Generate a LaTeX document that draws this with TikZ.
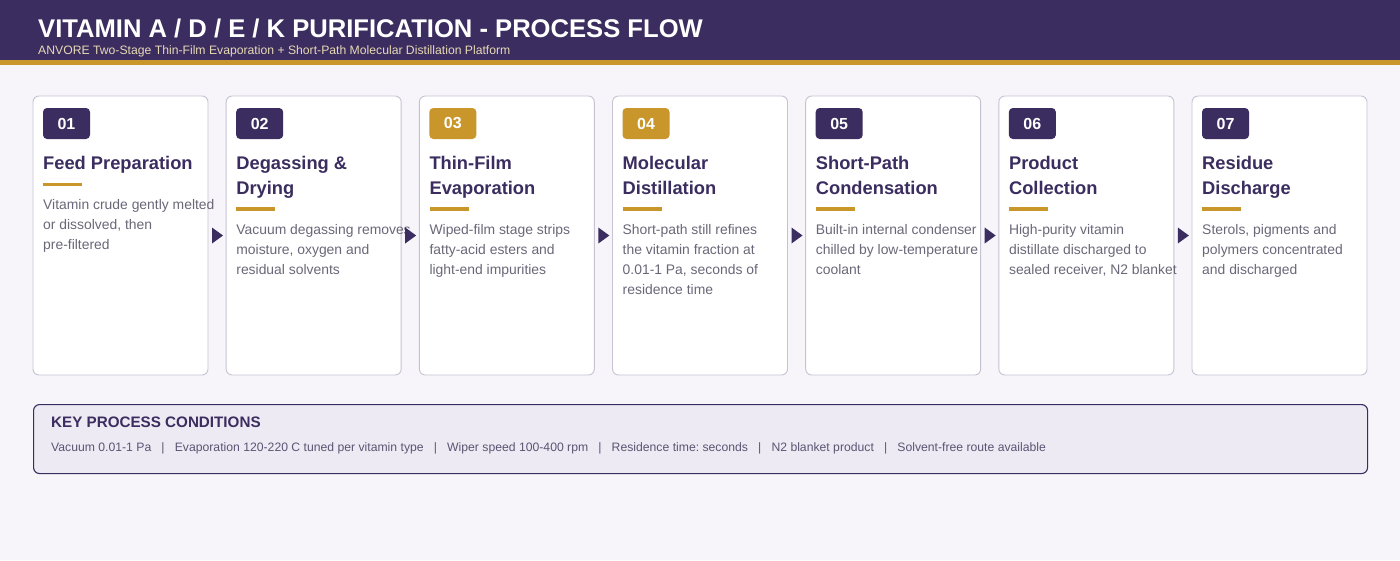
\documentclass[tikz,border=0pt]{standalone}
\usepackage{fontspec}
\setmainfont{Liberation Sans}
\usetikzlibrary{calc}
\frenchspacing
\definecolor{bgc}{HTML}{F7F5FA}
\definecolor{hdr}{HTML}{3B2D5F}
\definecolor{gold}{HTML}{C8962A}
\definecolor{cream}{HTML}{E8D9B5}
\definecolor{cardline}{HTML}{C6C2D2}
\definecolor{desccol}{HTML}{6A6878}
\definecolor{boxfill}{HTML}{EDEAF4}
\definecolor{condcol}{HTML}{5C5472}
\tikzset{
  card/.style={draw=cardline, line width=0.9pt, fill=white, rounded corners=6pt,
    minimum width=175pt, minimum height=279pt, anchor=north west, inner sep=0pt, outer sep=0pt},
  badge/.style={rounded corners=4pt, minimum width=47pt, minimum height=31pt, inner sep=0pt,
    text=white, font=\fontsize{16}{18}\selectfont\bfseries},
  ttl/.style={anchor=base west, inner sep=0pt, text=hdr, font=\fontsize{18.3}{22}\selectfont\bfseries},
  ubar/.style={fill=gold, minimum width=39pt, minimum height=3.5pt, inner sep=0pt, anchor=west},
  desc/.style={anchor=base west, inner sep=0pt, text=desccol, font=\fontsize{13.9}{16}\selectfont},
  flowtip/.style={fill=hdr},
}
\newcommand\stagecard[6]{%
  \pgfmathsetmacro\cx{33+(#1-1)*193.17}%
  \pgfmathsetmacro\by{184.5+(#5-1)*24.5}%
  \pgfmathsetmacro\dy{209+(#5-1)*25}%
  \node[card] (c#1) at (\cx,96) {};
  \node[badge, fill=#3] (b#1) at (\cx+33.5,123.5) {#2};
  \foreach \l [count=\k] in {#4} { \node[ttl] (t#1-\k) at (\cx+10,169+\k*25-25) {\l}; }
  \node[ubar] (u#1) at (\cx+10,\by) {};
  \foreach \l [count=\k] in {#6} { \node[desc] (d#1-\k) at (\cx+10,\dy+\k*20.33-20.33) {\l}; }
}
\begin{document}
\begin{tikzpicture}[x=1pt,y=-1pt]
\useasboundingbox (0,0) rectangle (1400,560);
\fill[bgc] (0,0) rectangle (1400,560);
\fill[hdr] (0,0) rectangle (1400,60);
\fill[gold] (0,60) rectangle (1400,65);
\node[anchor=base west, inner sep=0pt, text=white, font=\fontsize{25.6}{30}\selectfont\bfseries] (title) at (38,37.5)
  {VITAMIN A / D / E / K PURIFICATION - PROCESS FLOW};
\node[anchor=base west, inner sep=0pt, text=cream, font=\fontsize{12.2}{14}\selectfont] (subtitle) at (38,54.5)
  {ANVORE Two-Stage Thin-Film Evaporation + Short-Path Molecular Distillation Platform};

\stagecard{1}{01}{hdr}{Feed Preparation}{1}{Vitamin crude gently melted,{or dissolved, then},pre-filtered}
\stagecard{2}{02}{hdr}{Degassing \&,Drying}{2}{Vacuum degassing removes,{moisture, oxygen and},residual solvents}
\stagecard{3}{03}{gold}{Thin-Film,Evaporation}{2}{Wiped-film stage strips,fatty-acid esters and,light-end impurities}
\stagecard{4}{04}{gold}{Molecular,Distillation}{2}{Short-path still refines,the vitamin fraction at,{0.01-1 Pa, seconds of},residence time}
\stagecard{5}{05}{hdr}{Short-Path,Condensation}{2}{Built-in internal condenser,chilled by low-temperature,coolant}
\stagecard{6}{06}{hdr}{Product,Collection}{2}{High-purity vitamin,distillate discharged to,{sealed receiver, N2 blanket}}
\stagecard{7}{07}{hdr}{Residue,Discharge}{2}{{Sterols, pigments and},polymers concentrated,and discharged}

\foreach \i/\j in {1/2,2/3,3/4,4/5,5/6,6/7} {
  \fill[flowtip] ($(c\i.east)+(4,-8)$) -- ($(c\i.east)+(4,8)$) -- ($(c\i.east)!0.55!(c\j.west)+(5,0)$) -- cycle;
}

\node[draw=hdr, line width=1.1pt, fill=boxfill, rounded corners=6pt, minimum width=1334pt, minimum height=69pt,
  anchor=north west, inner sep=0pt] (kb) at (33,404) {};
\node[anchor=base west, inner sep=0pt, text=hdr, font=\fontsize{15.2}{18}\selectfont\bfseries] (kbt) at (51,427.5)
  {KEY PROCESS CONDITIONS};
\node[anchor=base west, inner sep=0pt, text=condcol, font=\fontsize{12.2}{14}\selectfont] (kbc) at (51,451.5)
  {Vacuum 0.01-1 Pa~~~|~~~Evaporation 120-220 C tuned per vitamin type~~~|~~~Wiper speed 100-400 rpm~~~|~~~Residence time: seconds~~~|~~~N2 blanket product~~~|~~~Solvent-free route available};
\end{tikzpicture}
\end{document}
